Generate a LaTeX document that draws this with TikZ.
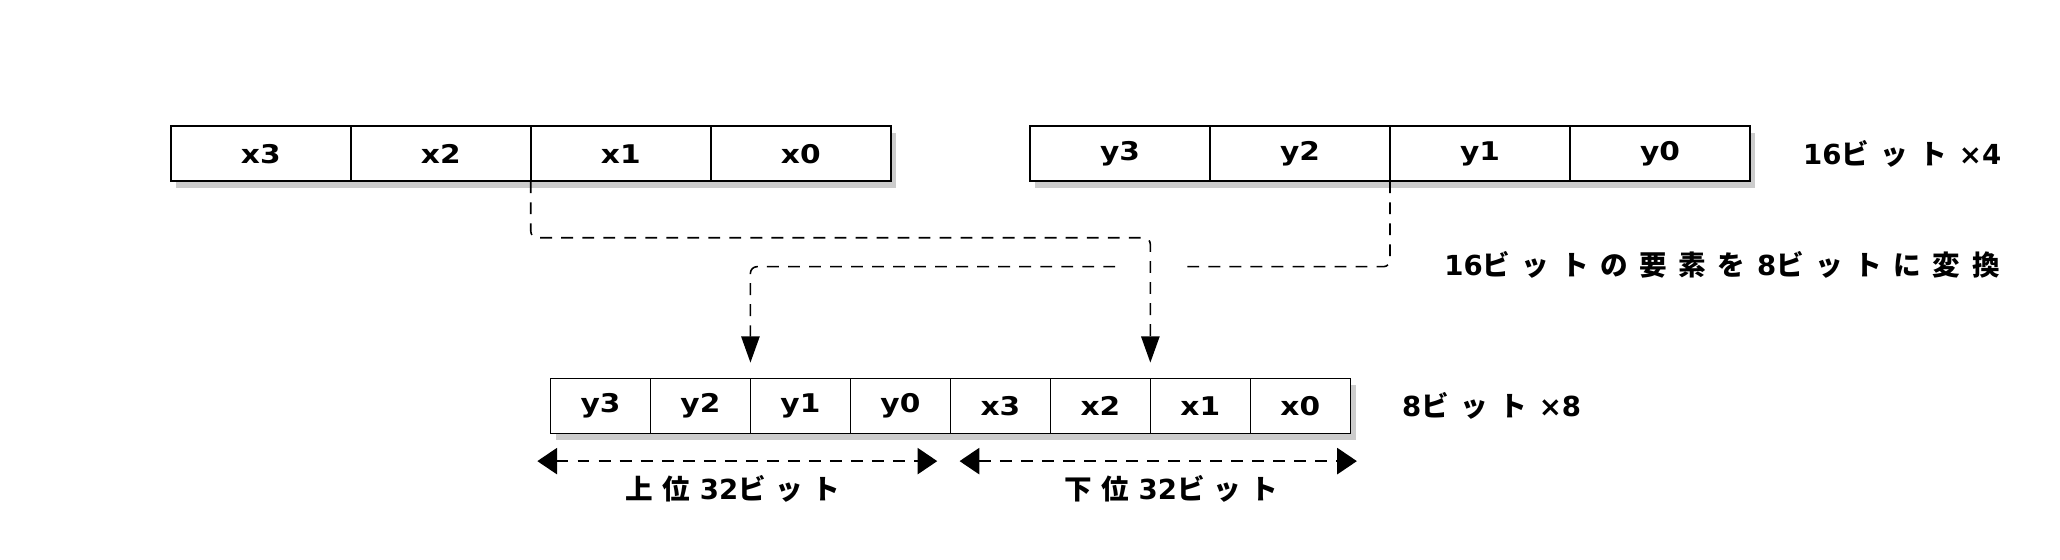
\documentclass[tikz,border=0pt]{standalone}
\usepackage{fontspec}
\setmainfont{DejaVu Sans}
\newfontfamily\cellfont[FakeStretch=1.15]{DejaVu Sans}
\newfontfamily\jpfont[LetterSpace=42]{Noto Sans CJK JP}
\newfontfamily\jpnarrow[LetterSpace=34]{Noto Sans CJK JP}
\newcommand\jp[1]{{\jpfont #1}}
\newcommand\jpg[1]{{\jpfont #1}\hspace{0.42em}}
\usetikzlibrary{arrows.meta,calc,positioning,shadows}

\begin{document}
\begin{tikzpicture}[x=0.5pt,y=0.5pt,
    font=\fontsize{10.5}{12}\selectfont\bfseries,
    cell/.style={draw, line width=0.6pt, fill=white, inner sep=0pt, outer sep=0pt,
      minimum height=21pt, font=\fontsize{9.8}{12}\cellfont\bfseries,
      drop shadow={shadow xshift=2pt, shadow yshift=-2.5pt, fill=black!40}},
    wordcell/.style={cell, minimum width=68.5pt},
    bytecell/.style={cell, minimum width=38.05pt},
    conv/.style={line width=0.6pt, dash pattern=on 4.5pt off 3.5pt, rounded corners=2.5pt,
      -{Triangle[length=10pt,width=7pt]}},
    span/.style={line width=0.6pt, dash pattern=on 4.5pt off 3.5pt,
      {Triangle[length=7.5pt,width=10pt]}-{Triangle[length=7.5pt,width=10pt]}},
    lbl/.style={inner sep=0pt, anchor=west}]
  %%%%% START %%%%%
  \useasboundingbox (0,-1.2) rectangle (1568,425);

  % 16-bit elements
  \node[wordcell] (w-x3) at (198.5,308) {x3};
  \foreach \n [remember=\n as \p (initially x3)] in {x2,x1,x0}
    \node[wordcell, right=0pt of w-\p] (w-\n) {\n};

  \node[wordcell] (w-y3) at (852.5,308) {y3};
  \foreach \n [remember=\n as \p (initially y3)] in {y2,y1,y0}
    \node[wordcell, right=0pt of w-\p] (w-\n) {\n};

  \node[lbl, right=20pt of w-y0] (lbl-w) {16\jpg{ビット}×4};

  % 8-bit elements
  \node[bytecell] (b-y3) at (457.05,116) {y3};
  \foreach \n [remember=\n as \p (initially y3)] in {y2,y1,y0,x3,x2,x1,x0}
    \node[bytecell, right=0pt of b-\p] (b-\n) {\n};

  \node[lbl, right=19.5pt of b-x0] (lbl-b) {8\jpg{ビット}×8};

  % conversion
  \node[lbl] (lbl-conv) at (1099,223) {16\jpg{ビットの要素を}8\jp{ビットに変換}};

  \draw[conv] (w-y1.south west) -- ++(0,-65) -| ([yshift=6pt]b-y1.north west);
  \coordinate (jump) at ($(b-x1.north west |- w-y1.south west)+(0,-65)$);
  \draw[white, line width=3pt] ($(jump)+(-23,0)$) -- ($(jump)+(22,0)$);
  \draw[conv] (w-x1.south west) -- ++(0,-43) -| ([yshift=6pt]b-x1.north west);

  % upper / lower halves
  \coordinate (hi-l) at ($(b-y3.south west)+(-5pt,-10.5pt)$);
  \coordinate (hi-r) at ($(b-x3.south west)+(-5pt,-10.5pt)$);
  \coordinate (lo-l) at ($(b-x3.south west)+(3.5pt,-10.5pt)$);
  \coordinate (lo-r) at ($(b-x0.south east)+(2.5pt,-10.5pt)$);
  \draw[span] (hi-l) -- (hi-r);
  \draw[span] (lo-l) -- (lo-r);

  \node[lbl] (lbl-hi) at (476,53) {{\jpnarrow 上位}\hspace{0.34em}32{\jpnarrow ビット}};
  \node[lbl] (lbl-lo) at (810,53) {{\jpnarrow 下位}\hspace{0.34em}32{\jpnarrow ビット}};
  %%%%% END %%%%%
\end{tikzpicture}
\end{document}
